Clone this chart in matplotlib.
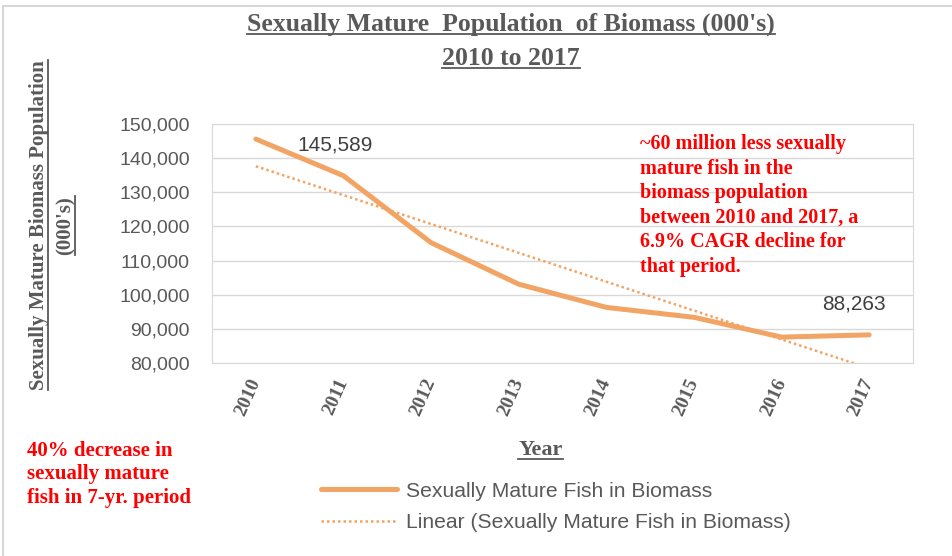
import matplotlib
matplotlib.use('Agg')
import matplotlib.pyplot as plt
import numpy as np
from matplotlib.lines import Line2D
from matplotlib.patches import Rectangle

years = ['2010', '2011', '2012', '2013', '2014', '2015', '2016', '2017']
fish = np.array([145589, 134850, 115250, 103100, 96300, 93400, 87600, 88263])
yticks = [80000, 90000, 100000, 110000, 120000, 130000, 140000, 150000]

orange = '#F2A464'
gray_txt = '#595959'
red = '#FF0000'
serif = ['Liberation Serif', 'DejaVu Serif']
sans = ['Liberation Sans', 'DejaVu Sans']

fig = plt.figure(figsize=(9.53, 5.56), dpi=100)
ax = fig.add_axes([0.2225, 0.347, 0.7355, 0.43])

x = np.arange(len(years))
ax.plot(x, fish, color=orange, lw=3.6, solid_capstyle='round', label='Sexually Mature Fish in Biomass', zorder=3)

# linear trendline, like excel
k, b = np.polyfit(x, fish, 1)
ax.plot(x, k * x + b, color=orange, lw=1.8, ls=(0, (1, 1.2)), label='Linear (Sexually Mature Fish in Biomass)', zorder=2)

ax.set_xlim(-0.5, len(years) - 0.5)
ax.set_ylim(80000, 150000)
ax.set_yticks(yticks)
ax.set_yticklabels(['{:,}'.format(v) for v in yticks], family=sans, fontsize=14, color=gray_txt)
ax.set_xticks(x)
ax.set_xticklabels(years, family=serif, fontsize=14, fontweight='bold',
                   color=gray_txt, rotation=66, ha='right', va='center', rotation_mode='anchor')
ax.tick_params(length=0)
ax.tick_params(axis='y', pad=16)
ax.tick_params(axis='x', pad=12)
ax.grid(axis='y', color='#D9D9D9', lw=1)
for s in ax.spines.values():
    s.set_color('#D9D9D9')
ax.set_axisbelow(True)

ax.annotate('{:,}'.format(fish[0]), (x[0], fish[0]), xytext=(30, -4), textcoords='offset points',
            family=sans, fontsize=15, color='#404040', ha='left', va='center')
ax.annotate('{:,}'.format(fish[-1]), (x[-1], fish[-1]), xytext=(-11, 22), textcoords='offset points',
            family=sans, fontsize=15, color='#404040', ha='center', va='center')

ax.text(0.611, 0.958, '~60 million less sexually\nmature fish in the\nbiomass population\nbetween 2010 and 2017, a\n6.9% CAGR decline for\nthat period.',
        transform=ax.transAxes, family=serif, fontweight='bold', fontsize=14.5, color=red,
        va='top', ha='left', linespacing=1.3)

fig.text(0.028, 0.147, '40% decrease in\nsexually mature\nfish in 7-yr. period', family=serif, fontweight='bold',
         fontsize=15, color=red, va='center', ha='left', linespacing=1.25)

leg = fig.legend(loc='center left', bbox_to_anchor=(0.317, 0.088), frameon=False, handlelength=3.6,
                 handletextpad=0.4, labelspacing=0.6, prop={'family': sans, 'size': 15.2})
for t in leg.get_texts():
    t.set_color(gray_txt)

# texts that get underlined
under = []
under.append(fig.text(0.536, 0.957, "Sexually Mature  Population  of Biomass (000's)", family=serif,
                      fontweight='bold', fontsize=18.5, color=gray_txt, ha='center', va='center'))
under.append(fig.text(0.536, 0.895, '2010 to 2017', family=serif, fontweight='bold', fontsize=18.5,
                      color=gray_txt, ha='center', va='center'))
under.append(fig.text(0.567, 0.19, 'Year', family=serif, fontweight='bold', fontsize=16,
                      color=gray_txt, ha='center', va='center'))
ylab1 = fig.text(0.041, 0.595, 'Sexually Mature Biomass Population', family=serif, fontweight='bold',
                 fontsize=15, color=gray_txt, rotation=90, ha='center', va='center')
ylab2 = fig.text(0.069, 0.595, "(000's)", family=serif, fontweight='bold', fontsize=15,
                 color=gray_txt, rotation=90, ha='center', va='center')

fig.canvas.draw()
r = fig.canvas.get_renderer()
inv = fig.transFigure.inverted()
for t in under:
    bb = t.get_window_extent(r).transformed(inv)
    fig.add_artist(Line2D([bb.x0, bb.x1], [bb.y0 + 0.003, bb.y0 + 0.003], color=gray_txt, lw=1.3,
                          transform=fig.transFigure))
for t in (ylab1, ylab2):
    bb = t.get_window_extent(r).transformed(inv)
    fig.add_artist(Line2D([bb.x1 - 0.001, bb.x1 - 0.001], [bb.y0, bb.y1], color=gray_txt, lw=1.3,
                          transform=fig.transFigure))

fig.add_artist(Rectangle((0.003, -0.01), 1.1, 1.0, fill=False, ec='#D0D0D0', lw=1.2,
                         transform=fig.transFigure))

fig.savefig('out.png', dpi=100)
